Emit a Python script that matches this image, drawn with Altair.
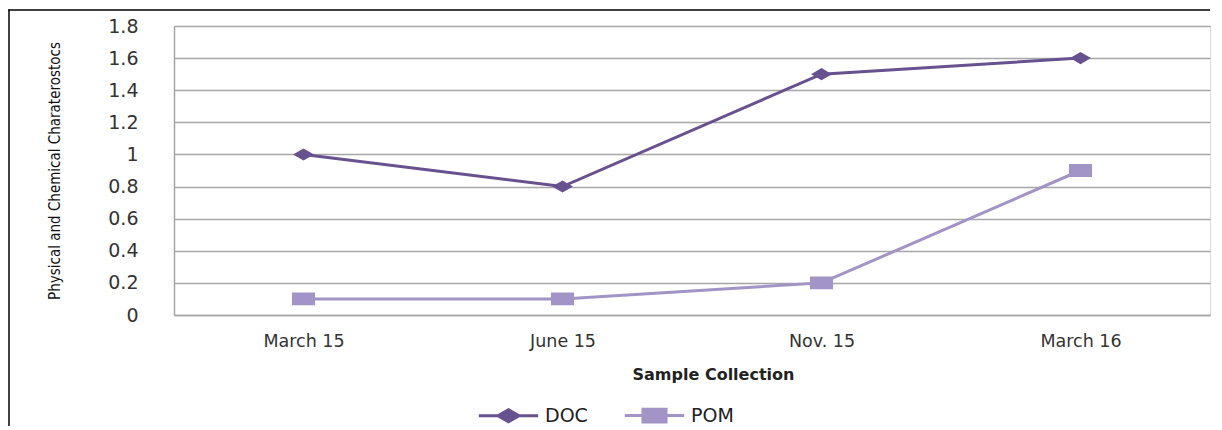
import altair as alt
import pandas as pd

dates = ["March 15", "June 15", "Nov. 15", "March 16"]
series = ["DOC", "POM"]
doc_values = [1.0, 0.8, 1.5, 1.6]
pom_values = [0.1, 0.1, 0.2, 0.9]
y_ticks = [0, 0.2, 0.4, 0.6, 0.8, 1.0, 1.2, 1.4, 1.6, 1.8]

colors = ["#68518f", "#a294c6"]
shapes = [
    "M-2.7,0 L2.7,0 M-0.95,0 L0,-0.55 L0.95,0 L0,0.55 Z",
    "M-2.7,0 L2.7,0 M-1.05,-0.58 L1.05,-0.58 L1.05,0.58 L-1.05,0.58 Z",
]

rows = []
for d, v in zip(dates, doc_values):
    rows.append({"date": d, "series": "DOC", "value": v})
for d, v in zip(dates, pom_values):
    rows.append({"date": d, "series": "POM", "value": v})
df = pd.DataFrame(rows)

x_enc = alt.X(
    "date:N",
    sort=dates,
    scale=alt.Scale(type="point", padding=0.5),
    axis=alt.Axis(
        title="Sample Collection",
        titleFont="DejaVu Sans",
        titleFontWeight="bold",
        titleFontSize=16,
        titleColor="#222222",
        titlePadding=17,
        titleX=539,
        labelAngle=0,
        labelFont="DejaVu Sans",
        labelFontSize=17.5,
        labelColor="#333333",
        labelPadding=17,
        ticks=False,
        domainColor="#a6a6a6",
        domainWidth=1.5,
        grid=False,
    ),
)
y_enc = alt.Y(
    "value:Q",
    scale=alt.Scale(domain=[0, 1.8], nice=False),
    axis=alt.Axis(
        title="Physical and Chemical Charaterostocs",
        titleFont="Liberation Sans Narrow, DejaVu Sans Condensed, sans-serif",
        titleFontWeight="normal",
        titleFontSize=15,
        titleColor="#111111",
        titleX=-112,
        values=y_ticks,
        format="~g",
        labelFont="DejaVu Sans",
        labelFontSize=19,
        labelColor="#333333",
        labelPadding=36,
        ticks=False,
        domainColor="#a6a6a6",
        domainWidth=1.5,
        grid=True,
        gridColor="#a6a6a6",
        gridWidth=1.5,
    ),
)

legend = alt.Legend(
    title=None,
    orient="none",
    direction="horizontal",
    legendX=322,
    legendY=377,
    labelFont="DejaVu Sans",
    labelFontSize=19,
    labelColor="#222222",
    labelOffset=24,
    columnPadding=30,
    symbolStrokeWidth=3,
    symbolSize=484,
)

base = alt.Chart(df)

lines = [
    base.transform_filter(alt.datum.series == s)
    .mark_line(color=c, strokeWidth=3)
    .encode(x=x_enc, y=y_enc)
    for s, c in zip(series, colors)
]

points = base.mark_point(filled=True, opacity=1).encode(
    x=x_enc,
    y=y_enc,
    color=alt.Color("series:N", scale=alt.Scale(domain=series, range=colors), legend=legend),
    stroke=alt.Stroke("series:N", scale=alt.Scale(domain=series, range=colors), legend=legend),
    shape=alt.Shape("series:N", scale=alt.Scale(domain=series, range=shapes), legend=legend),
    strokeOpacity=alt.value(0),
    size=alt.value(484),
)

frame_data = pd.DataFrame({"k": [0]})
top_frame = alt.Chart(frame_data).mark_rule(color="#000000", strokeWidth=1.5).encode(
    x=alt.value(-166), x2=alt.value(1036), y=alt.value(-16)
)
left_frame = alt.Chart(frame_data).mark_rule(color="#000000", strokeWidth=1.5).encode(
    x=alt.value(-165), y=alt.value(-16), y2=alt.value(400)
)

chart = (
    alt.layer(*lines, points, top_frame, left_frame)
    .properties(
        width=1036,
        height=289,
        autosize=alt.AutoSizeParams(type="none"),
        padding={"left": 166, "top": 18, "right": 4, "bottom": 111},
        title=alt.Title(
            "b)",
            font="Liberation Serif",
            fontStyle="italic",
            fontWeight="bold",
            fontSize=22,
            color="#1a1a80",
            anchor="middle",
            dx=-94,
            offset=14,
        ),
    )
    .configure_view(stroke=None)
    .configure(background="white")
)

chart.save("out.html", embed_options={"renderer": "svg", "actions": False})
